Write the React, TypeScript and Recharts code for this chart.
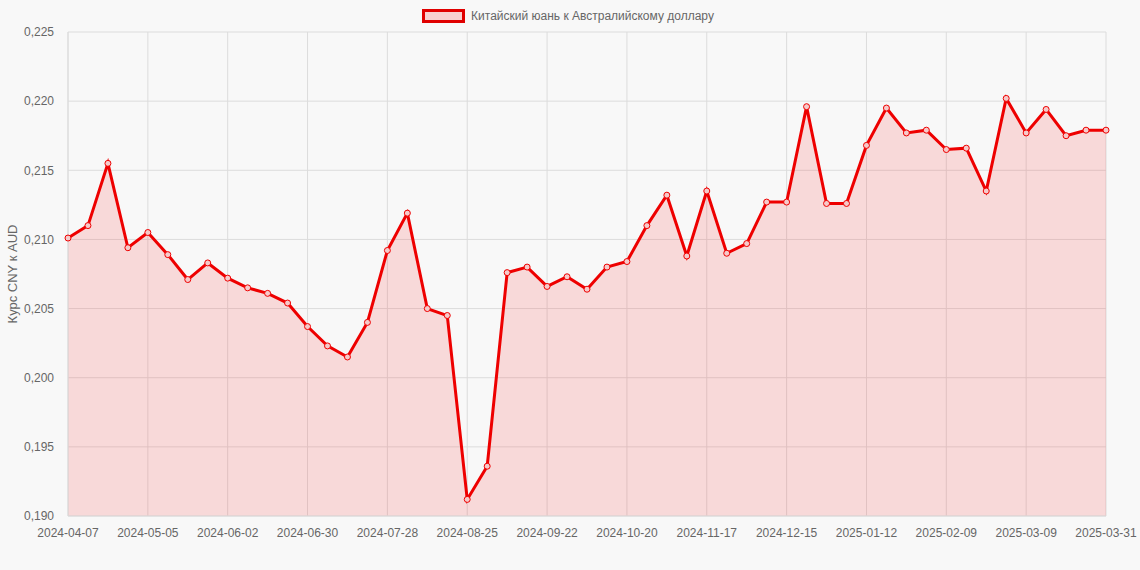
import React from 'react';
import { AreaChart, Area, XAxis, YAxis, CartesianGrid, Legend } from 'recharts';

// Weekly dates (last point is the current day)
const dates: string[] = [
    '2024-04-07', '2024-04-14', '2024-04-21', '2024-04-28', '2024-05-05', '2024-05-12', '2024-05-19', '2024-05-26',
    '2024-06-02', '2024-06-09', '2024-06-16', '2024-06-23', '2024-06-30', '2024-07-07', '2024-07-14', '2024-07-21',
    '2024-07-28', '2024-08-04', '2024-08-11', '2024-08-18', '2024-08-25', '2024-09-01', '2024-09-08', '2024-09-15',
    '2024-09-22', '2024-09-29', '2024-10-06', '2024-10-13', '2024-10-20', '2024-10-27', '2024-11-03', '2024-11-10',
    '2024-11-17', '2024-11-24', '2024-12-01', '2024-12-08', '2024-12-15', '2024-12-22', '2024-12-29', '2025-01-05',
    '2025-01-12', '2025-01-19', '2025-01-26', '2025-02-02', '2025-02-09', '2025-02-16', '2025-02-23', '2025-03-02',
    '2025-03-09', '2025-03-16', '2025-03-23', '2025-03-30', '2025-03-31',
];

// CNY -> AUD rate
const rates: number[] = [
    0.2101, 0.2110, 0.2155, 0.2094, 0.2105, 0.2089, 0.2071, 0.2083,
    0.2072, 0.2065, 0.2061, 0.2054, 0.2037, 0.2023, 0.2015, 0.2040,
    0.2092, 0.2119, 0.2050, 0.2045, 0.1912, 0.1936, 0.2076, 0.2080,
    0.2066, 0.2073, 0.2064, 0.2080, 0.2084, 0.2110, 0.2132, 0.2088,
    0.2135, 0.2090, 0.2097, 0.2127, 0.2127, 0.2196, 0.2126, 0.2126,
    0.2168, 0.2195, 0.2177, 0.2179, 0.2165, 0.2166, 0.2135, 0.2202,
    0.2177, 0.2194, 0.2175, 0.2179, 0.2179,
];

const xTicks: string[] = [
    '2024-04-07', '2024-05-05', '2024-06-02', '2024-06-30', '2024-07-28', '2024-08-25', '2024-09-22',
    '2024-10-20', '2024-11-17', '2024-12-15', '2025-01-12', '2025-02-09', '2025-03-09', '2025-03-31',
];

const yTicks: number[] = [0.19, 0.195, 0.2, 0.205, 0.21, 0.215, 0.22, 0.225];

const seriesName = 'Китайский юань к Австралийскому доллару';

const chartData = dates.map((d, i) => ({ date: d, rate: rates[i] }));

const fmt = (v: number) => v.toFixed(3).replace('.', ',');

const LegendBox = () => (
    <div style={{ height: 20, marginTop: -6, paddingLeft: 30, display: 'flex', justifyContent: 'center', alignItems: 'center', fontFamily: 'Arial, "Liberation Sans", sans-serif', fontSize: 12, color: '#666' }}>
        <span style={{ display: 'inline-block', width: 37, height: 8, border: '3px solid #e00000', background: '#f8d0d0', marginRight: 6 }} />
        <span>{seriesName}</span>
    </div>
);

export default function App() {
    return (
        <div style={{ width: 1140, height: 570, background: '#f8f8f8', fontFamily: 'Arial, "Liberation Sans", sans-serif' }}>
            <style>{`body{margin:0}`}</style>
            <AreaChart width={1140} height={570} data={chartData} margin={{ top: 12, right: 34, bottom: 24, left: 0 }}>
                <CartesianGrid stroke="#dcdcdc" strokeWidth={1} />
                <XAxis
                    dataKey="date"
                    ticks={xTicks}
                    interval={0}
                    height={30}
                    tickLine={false}
                    axisLine={{ stroke: '#dcdcdc' }}
                    tick={{ fill: '#666', fontSize: 12 }}
                    tickMargin={6}
                />
                <YAxis
                    domain={[0.19, 0.225]}
                    ticks={yTicks}
                    tickFormatter={fmt}
                    width={68}
                    tickLine={false}
                    axisLine={{ stroke: '#dcdcdc' }}
                    tick={{ fill: '#666', fontSize: 12 }}
                    tickMargin={8}
                    label={{ value: 'Курс CNY к AUD', angle: -90, position: 'insideLeft', offset: 12, style: { fill: '#666', fontSize: 13, textAnchor: 'middle' } }}
                />
                <Legend verticalAlign="top" height={20} content={<LegendBox />} />
                <Area
                    type="linear"
                    dataKey="rate"
                    name={seriesName}
                    stroke="#ee0000"
                    strokeWidth={3}
                    fill="#ff0000"
                    fillOpacity={0.12}
                    dot={{ r: 3, stroke: '#ee0000', strokeWidth: 1, fill: '#f6caca', fillOpacity: 1 }}
                    activeDot={false}
                    isAnimationActive={false}
                />
            </AreaChart>
        </div>
    );
}
